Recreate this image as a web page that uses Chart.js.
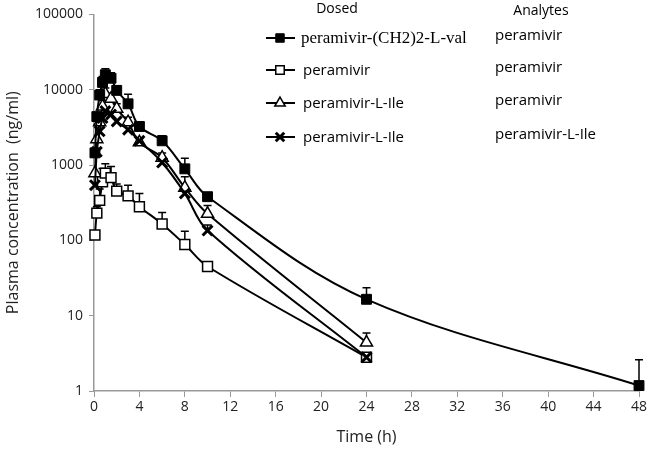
<!DOCTYPE html>
<html lang="en">
  <head>
    <meta charset="UTF-8" />
    <title>Plasma concentration</title>
    <script src="https://cdn.jsdelivr.net/npm/chart.js"></script>
    <style>
      html, body { margin: 0; padding: 0; background: #fff; }
      #wrap { width: 658px; height: 463px; position: relative; }
    </style>
  </head>
  <body>
    <div id="wrap"><canvas id="pkChart" width="658" height="463"></canvas></div>

    <script>
        // sampling times (h)
        const times = [0.083, 0.25, 0.5, 0.75, 1, 1.5, 2, 3, 4, 6, 8, 10, 24];
        const timesLong = [0.083, 0.25, 0.5, 0.75, 1, 1.5, 2, 3, 4, 6, 8, 10, 24, 48];
        const yTicks = [1, 10, 100, 1000, 10000, 100000];

        const dosedNames = ['peramivir-(CH2)2-L-val', 'peramivir', 'peramivir-L-Ile', 'peramivir-L-Ile'];
        const analyteNames = ['peramivir', 'peramivir', 'peramivir', 'peramivir-L-Ile'];

        // mean concentrations (ng/ml)
        const valMean = [1450, 4400, 8500, 12500, 15800, 14200, 9800, 6500, 3250, 2100, 890, 380, 16.5, 1.18];
        const periMean = [118, 230, 340, 600, 780, 680, 450, 390, 280, 165, 88, 45, 2.8];
        const ileMean = [780, 2200, 3700, 6000, 8800, 7600, 5600, 3700, 2000, 1250, 500, 225, 4.4];
        const ileIleMean = [540, 1500, 2800, 4200, 5200, 4700, 3800, 2950, 2100, 1080, 420, 135, 2.8];

        // upper end of error bars (mean + SD), null = not shown
        const valUpper = [null, null, 10000, 15000, 19000, 16800, 11200, 8700, 3700, 2450, 1230, 410, 23.5, 2.6];
        const periUpper = [null, 280, 480, 900, 1040, 960, 560, 540, 420, 235, 132, 52, null];
        const ileUpper = [null, null, 4300, 7200, 10500, 9000, 6500, 4300, 2250, 1450, 700, 290, 5.9];
        const ileIleUpper = [null, null, null, null, null, null, null, null, null, null, null, 160, null];

        function toPoints(xs, ys) {
            return ys.map((y, i) => ({ x: xs[i], y: y }));
        }

        const datasets = [
            { label: dosedNames[0], data: toPoints(timesLong, valMean), upper: valUpper, order: 1,
              pointStyle: 'rect', pointRadius: 7, backgroundColor: '#000', borderColor: '#000', pointBorderWidth: 1 },
            { label: dosedNames[1], data: toPoints(times, periMean), upper: periUpper, order: 1,
              pointStyle: 'rect', pointRadius: 7, backgroundColor: '#fff', borderColor: '#000', pointBorderWidth: 1.5 },
            { label: dosedNames[2], data: toPoints(times, ileMean), upper: ileUpper, order: 1,
              pointStyle: 'triangle', pointRadius: 7, backgroundColor: '#fff', borderColor: '#000', pointBorderWidth: 1.5 },
            { label: dosedNames[3], data: toPoints(times, ileIleMean), upper: ileIleUpper, order: 0,
              pointStyle: 'crossRot', pointRadius: 7, backgroundColor: '#000', borderColor: '#000', pointBorderWidth: 3 }
        ];
        datasets.forEach(ds => {
            ds.borderWidth = 2;
            ds.tension = 0.35;
            ds.showLine = true;
            ds.clip = false;
        });

        const sans = "'Open Sans', 'Noto Sans', sans-serif";

        // error bars, drawn under the markers
        const errorBars = {
            id: 'errorBars',
            beforeDatasetsDraw(chart) {
                const ctx = chart.ctx;
                const xs = chart.scales.x, ys = chart.scales.y;
                ctx.save();
                ctx.strokeStyle = '#000';
                ctx.lineWidth = 1.5;
                chart.data.datasets.forEach(ds => {
                    ds.data.forEach((p, i) => {
                        const up = ds.upper[i];
                        if (up == null) return;
                        const px = xs.getPixelForValue(p.x);
                        const y0 = ys.getPixelForValue(p.y);
                        const y1 = ys.getPixelForValue(up);
                        ctx.beginPath();
                        ctx.moveTo(px, y0);
                        ctx.lineTo(px, y1);
                        ctx.moveTo(px - 4, y1);
                        ctx.lineTo(px + 4, y1);
                        ctx.stroke();
                    });
                });
                ctx.restore();
            }
        };

        // two-column legend (Dosed / Analytes)
        const pkLegend = {
            id: 'pkLegend',
            afterDraw(chart) {
                const ctx = chart.ctx;
                const rows = [38, 70, 103, 137];
                ctx.save();
                ctx.fillStyle = '#000';
                ctx.textBaseline = 'middle';
                ctx.textAlign = 'center';
                ctx.font = '14px ' + sans;
                ctx.fillText('Dosed', 337, 9);
                ctx.fillText('Analytes', 541, 11);
                chart.data.datasets.forEach((ds, i) => {
                    const y = rows[i];
                    ctx.strokeStyle = '#000';
                    ctx.lineWidth = 2;
                    ctx.beginPath();
                    ctx.moveTo(266, y);
                    ctx.lineTo(295, y);
                    ctx.stroke();
                    ctx.fillStyle = ds.backgroundColor;
                    ctx.lineWidth = ds.pointBorderWidth;
                    Chart.helpers.drawPoint(ctx, {
                        pointStyle: ds.pointStyle, radius: 6, rotation: 0,
                        borderWidth: ds.pointBorderWidth
                    }, 280, y);
                    ctx.fillStyle = '#000';
                    ctx.textAlign = 'left';
                    ctx.font = i === 0 ? "17px 'Liberation Serif', serif" : '15px ' + sans;
                    ctx.fillText(dosedNames[i], i === 0 ? 301 : 303, y + 1);
                    ctx.font = '15px ' + sans;
                    ctx.fillText(analyteNames[i], 495, y - 2);
                });
                ctx.restore();
            }
        };

        new Chart(document.getElementById('pkChart').getContext('2d'), {
            type: 'line',
            data: { datasets: datasets },
            options: {
                responsive: false,
                animation: false,
                layout: { padding: { top: 9, right: 19, left: 0, bottom: 12 } },
                plugins: {
                    legend: { display: false },
                    tooltip: { enabled: false }
                },
                elements: { point: { hoverRadius: 7 } },
                scales: {
                    x: {
                        type: 'linear',
                        min: 0,
                        max: 48,
                        ticks: { stepSize: 4, color: '#222', font: { family: sans, size: 14 }, padding: 2 },
                        grid: { drawOnChartArea: false, drawTicks: true, tickLength: 6, color: '#999' },
                        border: { color: '#999', width: 1.5 },
                        title: { display: true, text: 'Time (h)', color: '#222', font: { family: sans, size: 16 }, padding: { top: 6 } },
                        afterFit: s => { s.height = 60; }
                    },
                    y: {
                        type: 'logarithmic',
                        min: 1,
                        max: 100000,
                        afterBuildTicks: s => { s.ticks = yTicks.map(v => ({ value: v })); },
                        ticks: { color: '#222', font: { family: sans, size: 14 }, padding: 6,
                                 callback: v => String(v) },
                        grid: { drawOnChartArea: false, drawTicks: true, tickLength: 5, color: '#999' },
                        border: { color: '#999', width: 1.5 },
                        title: { display: true, text: 'Plasma concentration  (ng/ml)', color: '#222', font: { family: sans, size: 16 }, padding: { bottom: 4 } },
                        afterFit: s => { s.width = 94; }
                    }
                }
            },
            plugins: [errorBars, pkLegend]
        });
    </script>
  </body>
</html>
